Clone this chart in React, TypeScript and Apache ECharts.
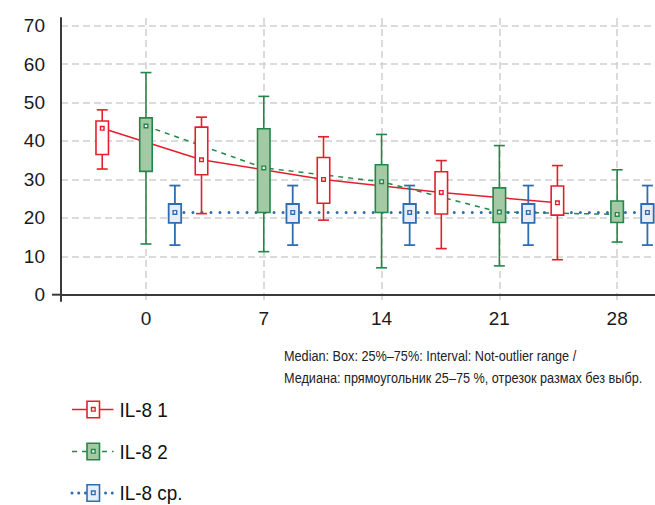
import React, { useEffect, useRef } from "react";
import * as echarts from "echarts";

// Axis ticks
const xTickValues = [0, 7, 14, 21, 28];
const yTickValues = [0, 10, 20, 30, 40, 50, 60, 70];

// IL-8 1 (red)
const il81Pos = [-2.6, 3.3, 10.55, 17.55, 24.45];
const il81Low = [32.7, 21.1, 19.4, 12.0, 9.1];
const il81Q1 = [36.5, 31.2, 23.8, 21.0, 20.7];
const il81Median = [43.3, 35.1, 30.0, 26.6, 23.9];
const il81Q3 = [45.2, 43.6, 35.7, 32.0, 28.3];
const il81High = [48.1, 46.2, 41.1, 34.9, 33.6];

// IL-8 2 (green)
const il82Pos = [0, 7, 14, 21, 28];
const il82Low = [13.2, 11.2, 7.0, 7.5, 13.7];
const il82Q1 = [32.1, 21.4, 21.4, 18.8, 18.8];
const il82Median = [43.9, 33.0, 29.4, 21.5, 20.9];
const il82Q3 = [46.0, 43.2, 33.8, 27.8, 24.4];
const il82High = [57.8, 51.6, 41.7, 38.8, 32.5];

// IL-8 ср. (blue)
const il8AvgPos = [1.72, 8.72, 15.67, 22.72, 29.8];
const il8AvgLow = [12.9, 12.9, 12.9, 12.9, 12.9];
const il8AvgQ1 = [18.7, 18.7, 18.7, 18.7, 18.7];
const il8AvgMedian = [21.4, 21.4, 21.4, 21.4, 21.4];
const il8AvgQ3 = [23.6, 23.6, 23.6, 23.6, 23.6];
const il8AvgHigh = [28.4, 28.4, 28.4, 28.4, 28.4];

const seriesNames = ["IL-8 1", "IL-8 2", "IL-8 ср."];
const noteLines = [
  "Median: Box: 25%–75%: Interval: Not-outlier range /",
  "Медиана: прямоугольник 25–75 %, отрезок размах без выбр.",
];

const RED = "#e41f2b";
const GREEN = "#24874a";
const GREEN_FILL = "#a3c9a5";
const BLUE = "#2f6db3";
const BLUE_FILL = "#e8eef9";

const X_MIN = -5.05;
const X_MAX = 30.25;
const Y_MIN = -1.64;
const Y_MAX = 72.0;

function boxData(pos: number[], lo: number[], q1: number[], md: number[], q3: number[], hi: number[]) {
  return pos.map((x, i) => [x, lo[i], q1[i], md[i], q3[i], hi[i]]);
}
function medianLine(pos: number[], md: number[]) {
  return pos.map((x, i) => [x, md[i]]);
}

function makeRender(stroke: string, fill: string, lw: number) {
  return (params: any, api: any) => {
    const x = api.value(0);
    const lo = api.coord([x, api.value(1)]);
    const q1 = api.coord([x, api.value(2)]);
    const md = api.coord([x, api.value(3)]);
    const q3 = api.coord([x, api.value(4)]);
    const hi = api.coord([x, api.value(5)]);
    const cx = lo[0];
    const bw = 12.5;
    const cw = 11;
    const ms = 3.6;
    const ls = { stroke, lineWidth: lw };
    return {
      type: "group",
      children: [
        { type: "line", shape: { x1: cx, y1: hi[1], x2: cx, y2: q3[1] }, style: ls },
        { type: "line", shape: { x1: cx, y1: q1[1], x2: cx, y2: lo[1] }, style: ls },
        { type: "line", shape: { x1: cx - cw / 2, y1: hi[1], x2: cx + cw / 2, y2: hi[1] }, style: ls },
        { type: "line", shape: { x1: cx - cw / 2, y1: lo[1], x2: cx + cw / 2, y2: lo[1] }, style: ls },
        {
          type: "rect",
          shape: { x: cx - bw / 2, y: q3[1], width: bw, height: q1[1] - q3[1] },
          style: { fill, stroke, lineWidth: lw },
        },
        {
          type: "rect",
          shape: { x: cx - ms / 2, y: md[1] - ms / 2, width: ms, height: ms },
          style: { fill: "#ffffff", stroke, lineWidth: 1.4 },
        },
      ],
    };
  };
}

function legendItem(cy: number, name: string, color: string, fill: string, dash: any, lw: number, cap: string) {
  return [
    {
      type: "line",
      shape: { x1: 72, y1: cy, x2: 113.5, y2: cy },
      style: { stroke: color, lineWidth: lw, lineDash: dash, lineCap: cap },
    },
    {
      type: "rect",
      shape: { x: 87, y: cy - 8.3, width: 12.5, height: 16.6 },
      style: { fill, stroke: color, lineWidth: 1.6 },
    },
    {
      type: "rect",
      shape: { x: 91.5, y: cy - 2, width: 3.6, height: 3.6 },
      style: { fill: "#ffffff", stroke: color, lineWidth: 1.4 },
    },
    {
      type: "text",
      x: 119.5,
      y: cy,
      scaleX: 0.9,
      style: {
        text: name,
        fill: "#111111",
        font: "21px 'Liberation Sans', Arial, sans-serif",
        verticalAlign: "middle",
        align: "left",
      },
    },
  ];
}

export default function App() {
  const ref = useRef<HTMLDivElement>(null);
  useEffect(() => {
    if (!ref.current) return;
    const chart = echarts.init(ref.current, null, { renderer: "svg" });
    const labelStyle = {
      color: "#1a1a1a",
      fontSize: 19,
      fontFamily: "'Liberation Sans', Arial, sans-serif",
    };
    const splitStyle = { color: "#cfcfcf", width: 1.5, type: [7, 4] as any };
    chart.setOption({
      animation: false,
      backgroundColor: "#ffffff",
      grid: { left: 61, right: 0, top: 18, bottom: 204, containLabel: false },
      xAxis: {
        type: "value",
        min: X_MIN,
        max: X_MAX,
        axisLine: { show: true, onZero: true, lineStyle: { color: "#3a3a3a", width: 2 } },
        axisTick: { show: false, customValues: xTickValues },
        axisLabel: { ...labelStyle, customValues: xTickValues, margin: 8 },
        splitLine: { show: true, lineStyle: splitStyle },
      },
      yAxis: {
        type: "value",
        min: Y_MIN,
        max: Y_MAX,
        axisLine: { show: true, onZero: false, lineStyle: { color: "#3a3a3a", width: 2 } },
        axisTick: { show: false, customValues: yTickValues },
        axisLabel: { ...labelStyle, customValues: yTickValues, margin: 16 },
        splitLine: { show: true, lineStyle: splitStyle },
      },
      series: [
        {
          name: seriesNames[0] + " median",
          type: "line",
          z: 1,
          data: medianLine(il81Pos, il81Median),
          showSymbol: false,
          symbol: "none",
          lineStyle: { color: RED, width: 1.5 },
        },
        {
          name: seriesNames[1] + " median",
          type: "line",
          z: 1,
          data: medianLine(il82Pos, il82Median),
          showSymbol: false,
          symbol: "none",
          lineStyle: { color: GREEN, width: 1.5, type: [5, 5] },
        },
        {
          name: seriesNames[2] + " median",
          type: "line",
          z: 1,
          data: medianLine(il8AvgPos, il8AvgMedian),
          showSymbol: false,
          symbol: "none",
          lineStyle: { color: BLUE, width: 3, type: [0.01, 9], cap: "round" },
        },
        {
          name: seriesNames[0],
          type: "custom",
          z: 3,
          renderItem: makeRender(RED, "#ffffff", 1.6),
          encode: { x: 0, y: [1, 2, 3, 4, 5] },
          data: boxData(il81Pos, il81Low, il81Q1, il81Median, il81Q3, il81High),
        },
        {
          name: seriesNames[1],
          type: "custom",
          z: 3,
          renderItem: makeRender(GREEN, GREEN_FILL, 1.6),
          encode: { x: 0, y: [1, 2, 3, 4, 5] },
          data: boxData(il82Pos, il82Low, il82Q1, il82Median, il82Q3, il82High),
        },
        {
          name: seriesNames[2],
          type: "custom",
          z: 3,
          renderItem: makeRender(BLUE, BLUE_FILL, 1.8),
          encode: { x: 0, y: [1, 2, 3, 4, 5] },
          data: boxData(il8AvgPos, il8AvgLow, il8AvgQ1, il8AvgMedian, il8AvgQ3, il8AvgHigh),
        },
      ],
    });

    const origin = chart.convertToPixel({ gridIndex: 0 }, [X_MIN, 0]) as number[];
    const noteFont = "15px 'Liberation Sans', Arial, sans-serif";
    chart.setOption({
      graphic: [
        {
          type: "line",
          shape: { x1: origin[0] - 9, y1: origin[1], x2: origin[0], y2: origin[1] },
          style: { stroke: "#3a3a3a", lineWidth: 2 },
        },
        {
          type: "text",
          x: 284,
          y: 356,
          scaleX: 0.845,
          style: { text: noteLines[0], fill: "#222222", font: noteFont, verticalAlign: "middle" },
        },
        {
          type: "text",
          x: 284,
          y: 378,
          scaleX: 0.845,
          style: { text: noteLines[1], fill: "#222222", font: noteFont, verticalAlign: "middle" },
        },
        ...legendItem(409.5, seriesNames[0], RED, "#ffffff", null, 1.5, "butt"),
        ...legendItem(451.5, seriesNames[1], GREEN, GREEN_FILL, [5, 5], 1.5, "butt"),
        ...legendItem(493, seriesNames[2], BLUE, BLUE_FILL, [0.01, 6.7], 3, "round"),
      ],
    });
    return () => chart.dispose();
  }, []);
  return (
    <div
      ref={ref}
      style={{ position: "absolute", left: 0, top: 0, width: 655, height: 505 }}
    />
  );
}
